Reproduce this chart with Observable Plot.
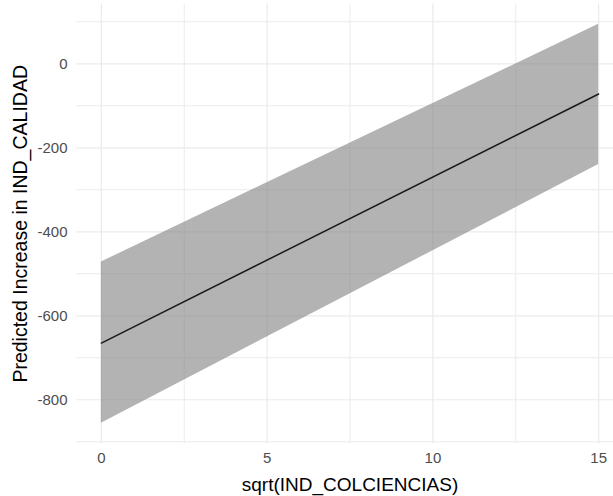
<!DOCTYPE html>
<html>
<head>
<meta charset="utf-8">
<script src="https://cdn.jsdelivr.net/npm/d3@7"></script>
<script src="https://cdn.jsdelivr.net/npm/@observablehq/plot@0.6"></script>
<style>
  html, body { margin: 0; padding: 0; background: #fff; }
  body { width: 613px; height: 496px; overflow: hidden; }
  svg { overflow: hidden; }
</style>
</head>
<body>
<div id="chart"></div>
<script>
// Data
const xs = [0, 15];
const fit = [-665, -72];
const lower = [-856, -240];
const upper = [-472, 94];

const xTicks = [0, 5, 10, 15];
const xMinor = [2.5, 7.5, 12.5];
const yTicks = [-800, -600, -400, -200, 0];
const yMinor = [-900, -700, -500, -300, -100, 100];

const xTitle = "sqrt(IND_COLCIENCIAS)";
const yTitle = "Predicted Increase in IND_CALIDAD";

const data = xs.map((x, i) => ({x, fit: fit[i], lower: lower[i], upper: upper[i]}));

const font = "'Liberation Sans', Arial, Helvetica, sans-serif";

const chart = Plot.plot({
  width: 613,
  height: 496,
  marginLeft: 76,
  marginRight: 0,
  marginTop: 3.4,
  marginBottom: 52.8,
  style: {fontFamily: font, background: "#fff"},
  x: {domain: [-0.75, 15.75], range: [76, 623]},
  y: {domain: [-904.6, 142.6]},
  marks: [
    Plot.ruleY(yMinor, {stroke: "#ebebeb", strokeWidth: 1}),
    Plot.ruleX(xMinor, {stroke: "#ebebeb", strokeWidth: 1}),
    Plot.ruleY(yTicks, {stroke: "#ebebeb", strokeWidth: 1.2}),
    Plot.ruleX(xTicks, {stroke: "#ebebeb", strokeWidth: 1.2}),
    Plot.areaY(data, {x: "x", y1: "lower", y2: "upper", fill: "#808080", fillOpacity: 0.6}),
    Plot.lineY(data, {x: "x", y: "fit", stroke: "#1a1a1a", strokeWidth: 1.5}),
    Plot.axisX({ticks: xTicks, tickSize: 0, tickPadding: 9, fontSize: 15, fill: "#4d4d4d", label: null, tickFormat: d => String(d)}),
    Plot.axisY({ticks: yTicks, tickSize: 0, tickPadding: 9, fontSize: 15, fill: "#4d4d4d", label: null, tickFormat: d => String(d)}),
    Plot.text([xTitle], {x: 7.5, frameAnchor: "bottom", lineAnchor: "middle", dy: 40.8, fontSize: 19, fill: "#000", text: d => d}),
    Plot.text([yTitle], {y: -381, frameAnchor: "left", lineAnchor: "middle", textAnchor: "middle", rotate: -90, dx: -56, fontSize: 19.5, fill: "#000", text: d => d})
  ]
});
document.getElementById("chart").appendChild(chart);
</script>
</body>
</html>
